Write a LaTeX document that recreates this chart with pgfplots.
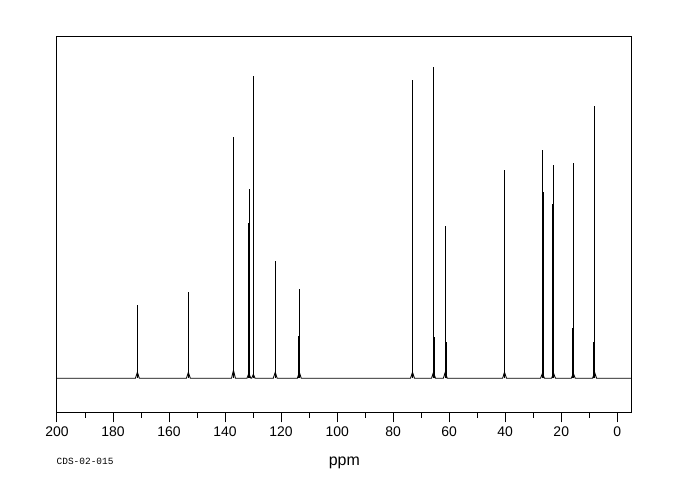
\documentclass[border=0pt]{standalone}
\usepackage{fontspec}
\setmainfont{Liberation Sans}
\newfontfamily\monofont{Liberation Mono}
\usepackage{pgfplots}
\pgfplotsset{compat=1.18}

\begin{document}
\begin{tikzpicture}[x=1bp,y=1bp]
  \useasboundingbox (0,0) rectangle (680,500);
  \begin{axis}[
      at={(57bp,87.7bp)}, anchor=south west,
      scale only axis,
      width=574.7bp, height=375.6bp,
      x dir=reverse,
      xmin=-5.15, xmax=200,
      ymin=-34, ymax=341.6,
      xtick={0,20,...,200},
      minor xtick={10,30,...,190},
      xtick pos=lower,
      ytick=\empty,
      tick align=outside,
      major tick length=10bp,
      minor tick length=5.5bp,
      every tick/.style={black, line width=1bp},
      axis line style={line width=1bp},
      /pgf/number format/assume math mode=true,
      xticklabel style={font=\fontsize{14}{14}\selectfont, yshift=-1bp},
      xlabel={ppm},
      xlabel style={font=\fontsize{16}{16}\selectfont, yshift=-13bp},
      clip=true,
    ]
    % baseline with small feet under each line
    \addplot[black, line width=0.9bp] coordinates {
      (200,0)
      (172.0,0) (171.3,6) (170.6,0)
      (153.8,0) (153.1,6) (152.4,0)
      (137.7,0) (137.0,8) (136.3,0)
      (132.2,0) (131.5,5) (130.8,0)
      (130.5,0) (129.9,4) (129.3,0)
      (122.8,0) (122.1,6) (121.4,0)
      (114.2,0) (113.5,6) (112.8,0)
      (73.8,0) (73.1,6) (72.4,0)
      (66.3,0) (65.6,6) (64.9,0)
      (62.1,0) (61.4,6) (60.7,0)
      (40.95,0) (40.25,6) (39.55,0)
      (27.4,0) (26.7,5) (26.0,0)
      (23.45,0) (22.75,5) (22.05,0)
      (16.4,0) (15.7,5) (15.0,0)
      (8.8,0) (8.1,6) (7.4,0)
      (-5.15,0)
    };
    % main lines
    \addplot[ycomb, black, line width=0.9bp, mark=none] coordinates {
      (171.3,73) (153.1,86) (137.0,241) (131.3,189) (131.7,155)
      (129.9,302) (122.1,117) (113.5,89) (73.1,298) (65.6,311)
      (61.4,152) (40.25,208) (26.7,228) (22.75,213) (15.7,215) (8.1,272)
    };
    % second components of the lines
    \addplot[ycomb, black, line width=0.9bp, mark=none] coordinates {
      (113.75,42) (65.35,41) (61.15,36) (40.45,17) (26.45,186)
      (23.0,174) (15.95,50) (8.35,36)
    };
  \end{axis}
  \node[anchor=west, font=\monofont\fontsize{9.5}{9.5}\selectfont, inner sep=0pt] at (56.5,39) {CDS-02-015};
\end{tikzpicture}
\end{document}
